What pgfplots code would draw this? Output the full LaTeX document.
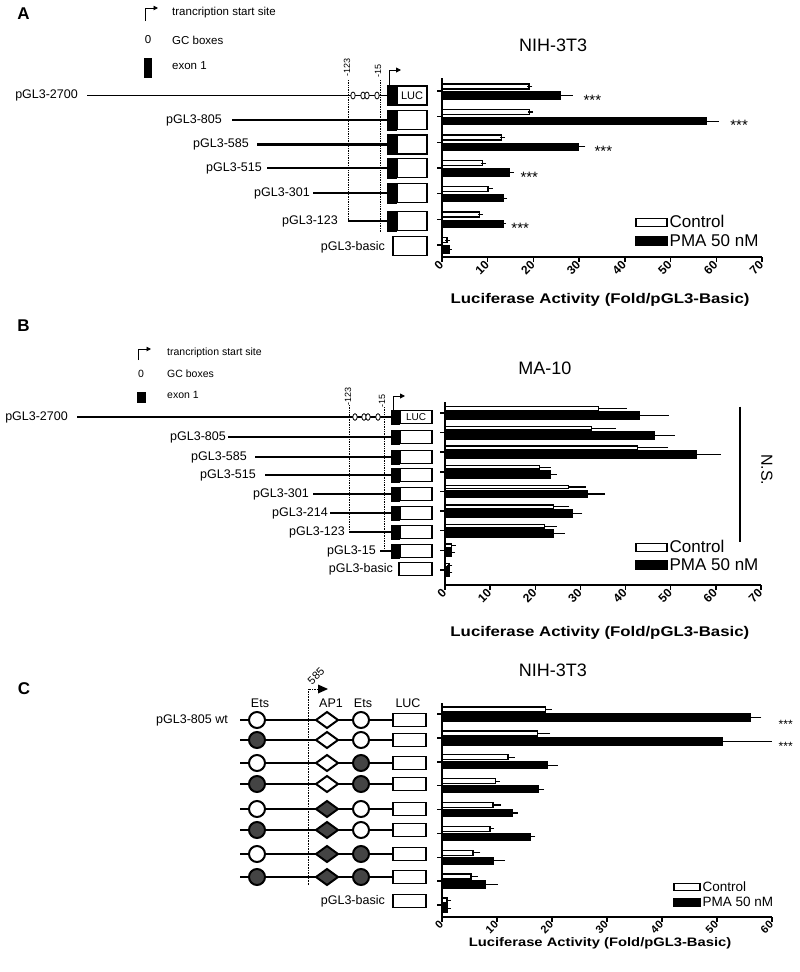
\documentclass[border=0pt]{standalone}
\usepackage{fontspec}
\setmainfont{Liberation Sans}
\usepackage{graphicx}
\usepackage{pgfplots}
\pgfplotsset{compat=1.18}
\usetikzlibrary{arrows.meta}
\newcommand{\fs}[1]{\fontsize{#1}{#1}\selectfont}
\definecolor{cdark}{HTML}{444444}

\pgfplotsset{
  lucaxis/.style={
    scale only axis, anchor=south west,
    xbar, clip=false,
    axis x line*=bottom, axis y line*=left,
    axis line style={line width=1.6pt,-},
    xmin=0,
    yticklabels={},
    tick align=outside, major tick length=5pt,
    tick style={line width=1.5pt,black},
    /pgf/number format/assume math mode=true,
    x tick label style={rotate=45, anchor=east, inner sep=1pt},
    legend cell align=left,
  },
  ctrl/.style={fill=white, draw=black, line width=1.4pt, forget plot,
    error bars/x dir=plus, error bars/x explicit,
    error bars/error bar style={line width=1.1pt, black},
    error bars/error mark options={line width=1.1pt, black, mark size=2.5pt}},
  pma/.style={fill=black, draw=black, line width=1.4pt, forget plot,
    error bars/x dir=plus, error bars/x explicit,
    error bars/error bar style={line width=1.1pt, black},
    error bars/error mark options={line width=1.1pt, black, mark size=2.5pt}},
}
\newcommand{\legctrl}[2]{\addlegendimage{legend image code/.code={\draw[fill=white,draw=black,line width=1.5pt] (0pt,-#2) rectangle (#1,#2);}}}
\newcommand{\legpma}[2]{\addlegendimage{legend image code/.code={\draw[fill=black,draw=black,line width=1.5pt] (0pt,-#2) rectangle (#1,#2);}}}

\begin{document}
\begin{tikzpicture}
\useasboundingbox (0,0) rectangle (800pt,-972pt);

% ================= Panel A =================
\begin{axis}[lucaxis, at={(442pt,-257pt)}, width=320pt, height=179pt,
  xmax=70, xtick={0,10,...,70}, ymin=-0.47, ymax=6.51, ytick={0,...,6},
  x tick label style={font=\bfseries\fs{12}},
  xlabel={\scalebox{1.2}[1]{\bfseries Luciferase Activity (Fold/pGL3-Basic)}},
  xlabel style={at={(axis description cs:0.494,-0.24)}, anchor=center, font=\fs{14}},
  legend style={draw=none, fill=none, at={(0.603,0.04)}, anchor=south west,
    font=\fs{17}, inner sep=0pt, row sep=1pt}]
\addplot[ctrl, bar width=5pt, bar shift=4.75pt] coordinates {
 (1.1,0) +- (0.1,0) (8.2,1) +- (0.2,0) (10.1,2) +- (0.4,0) (8.9,3) +- (0.2,0)
 (13.0,4) +- (0.2,0) (19.1,5) +- (0.2,0) (19.0,6) +- (0.2,0)};
\addplot[pma, bar width=7pt, bar shift=-4.5pt] coordinates {
 (1.5,0) +- (0.1,0) (13.3,1) +- (0.2,0) (13.5,2) +- (0.2,0) (14.8,3) +- (0.3,0)
 (29.8,4) +- (1.0,0) (57.8,5) +- (2.2,0) (25.9,6) +- (2.2,0)};
\legctrl{31pt}{4pt}\addlegendentry{Control}
\legpma{31pt}{4pt}\addlegendentry{PMA 50 nM}
\node[font=\fs{18}] at (rel axis cs:0.347,1.184) {NIH-3T3};
\node[font=\fs{15}, yshift=-9pt] at (axis cs:32.9,6) {***};
\node[font=\fs{15}, yshift=-9pt] at (axis cs:65.0,5) {***};
\node[font=\fs{15}, yshift=-9pt] at (axis cs:35.3,4) {***};
\node[font=\fs{15}, yshift=-9pt] at (axis cs:19.1,3) {***};
\node[font=\fs{15}, yshift=-9pt] at (axis cs:17.1,1) {***};
\end{axis}

% ================= Panel B =================
\begin{axis}[lucaxis, at={(445pt,-585pt)}, width=316pt, height=183pt,
  xmax=70, xtick={0,10,...,70}, ymin=-0.77, ymax=8.56, ytick={0,...,8},
  x tick label style={font=\bfseries\fs{12}},
  xlabel={\scalebox{1.2}[1]{\bfseries Luciferase Activity (Fold/pGL3-Basic)}},
  xlabel style={at={(axis description cs:0.49,-0.262)}, anchor=center, font=\fs{14}},
  legend style={draw=none, fill=none, at={(0.601,0.06)}, anchor=south west,
    font=\fs{17}, inner sep=0pt, row sep=0pt}]
\addplot[ctrl, bar width=3.5pt, bar shift=4.5pt] coordinates {
 (0.9,0) +- (0.2,0) (1.5,1) +- (0.3,0) (22.0,2) +- (2.2,0) (24.0,3) +- (3.0,0)
 (27.3,4) +- (3.3,0) (20.9,5) +- (2.0,0) (42.6,6) +- (6.3,0) (32.5,7) +- (4.8,0)
 (34.0,8) +- (5.7,0)};
\addplot[pma, bar width=7.5pt, bar shift=-2.5pt] coordinates {
 (0.9,0) +- (0.2,0) (1.5,1) +- (0.2,0) (24.0,2) +- (2.0,0) (28.1,3) +- (1.8,0)
 (31.6,4) +- (3.3,0) (23.3,5) +- (0.9,0) (55.6,6) +- (4.9,0) (46.3,7) +- (4.0,0)
 (43.0,8) +- (6.0,0)};
\legctrl{31pt}{4pt}\addlegendentry{Control}
\legpma{31pt}{4pt}\addlegendentry{PMA 50 nM}
\node[font=\fs{18}] at (rel axis cs:0.316,1.186) {MA-10};
\draw[line width=1.8pt] (axis cs:65.35,8.32) -- (axis cs:65.35,1.43);
\node[font=\fs{16}, rotate=-90] at (axis cs:71.3,5.1) {N.S.};
\end{axis}

% ================= Panel C =================
\begin{axis}[lucaxis, at={(442pt,-917pt)}, width=330pt, height=214pt,
  xmax=60, xtick={0,10,...,60}, ymin=-0.5, ymax=8.46, ytick={0,...,8},
  x tick label style={font=\bfseries\fs{11}},
  xlabel={\scalebox{1.2}[1]{\bfseries Luciferase Activity (Fold/pGL3-Basic)}},
  xlabel style={at={(axis description cs:0.479,-0.121)}, anchor=center, font=\fs{12.3}},
  legend style={draw=none, fill=none, at={(0.7,0.033)}, anchor=south west,
    font=\fs{13.5}, inner sep=0pt, row sep=0pt}]
\addplot[ctrl, bar width=5pt, bar shift=4.5pt] coordinates {
 (0.9,0) +- (0.3,0) (5.3,1) +- (0.7,0) (5.6,2) +- (0.9,0) (8.7,3) +- (0.3,0)
 (9.3,4) +- (1.0,0) (9.7,5) +- (0.3,0) (12.0,6) +- (0.8,0) (17.4,7) +- (1.8,0)
 (18.8,8) +- (0.7,0)};
\addplot[pma, bar width=7pt, bar shift=-3.5pt] coordinates {
 (0.9,0) +- (0.3,0) (7.9,1) +- (1.8,0) (9.4,2) +- (1.6,0) (16.0,3) +- (0.5,0)
 (12.7,4) +- (0.6,0) (17.5,5) +- (0.6,0) (19.2,6) +- (1.4,0) (51.0,7) +- (8.5,0)
 (56.0,8) +- (1.6,0)};
\legctrl{26pt}{3.5pt}\addlegendentry{Control}
\legpma{26pt}{3.5pt}\addlegendentry{PMA 50 nM}
\node[font=\fs{18}] at (rel axis cs:0.336,1.154) {NIH-3T3};
\node[font=\fs{12}, yshift=-10.5pt] at (axis cs:62.5,8) {***};
\node[font=\fs{12}, yshift=-8.5pt] at (axis cs:62.5,7) {***};
\end{axis}

% ================= Schematics =================
\begin{scope}[x=1pt,y=-1pt]
% panel letters
\node[font=\bfseries\fs{17}] at (23.5,14) {A};
\node[font=\bfseries\fs{17}] at (23.5,326) {B};
\node[font=\bfseries\fs{17}] at (24,689) {C};

% ---- A legend symbols
\draw[line width=0.9pt,-{Triangle[length=4.5pt,width=4.5pt]}] (145,21) -- (145,8) -- (158,8);
\node[anchor=west,font=\fs{11.5},inner sep=0] at (172,13) {trancription start site};
\node[font=\fs{11.5},inner sep=0] at (148,40) {0};
\node[anchor=west,font=\fs{11.5},inner sep=0] at (172,40) {GC boxes};
\fill (144,58) rectangle (152,78);
\node[anchor=west,font=\fs{11.5},inner sep=0] at (172,66) {exon 1};
% ---- A dotted lines
\draw[densely dotted, line width=0.7pt] (348,80) -- (348,221);
\draw[densely dotted, line width=0.7pt] (380,80) -- (380,232);
\node[rotate=90, font=\fs{9}, inner sep=0] at (347,67) {-123};
\node[rotate=90, font=\fs{9}, inner sep=0] at (378,71) {-15};
\draw[line width=0.9pt,-{Triangle[length=5pt,width=5pt]}] (389,85) -- (389,70) -- (401,70);
% ---- A rows
\draw[line width=1.8pt] (87,95.5) -- (387,95.5);
\draw[line width=1.8pt] (232,120) -- (387,120);
\draw[line width=2.6pt] (257,144.5) -- (387,144.5);
\draw[line width=1.8pt] (267,168) -- (387,168);
\draw[line width=1.8pt] (313,193) -- (387,193);
\draw[line width=1.8pt] (348,221) -- (387,221);
\foreach \y in {95.5,120,144.5,168,193,221}{
  \fill (387,\y-10.5) rectangle (397,\y+10.5);
  \draw[line width=1.5pt, fill=white] (397,\y-9.5) rectangle (427,\y+9.5);
}
\draw[line width=1.5pt, fill=white] (393,236.5) rectangle (427,255.5);
\node[font=\fs{11}] at (412,95.5) {LUC};
\foreach \x in {353,363,367,377}{
  \draw[line width=0.8pt, fill=white] (\x,95.5) ellipse (2.2pt and 3.5pt);
}
\node[anchor=east,font=\fs{12.5},inner sep=0] at (78,95.5) {pGL3-2700};
\node[anchor=east,font=\fs{12.5},inner sep=0] at (222,120) {pGL3-805};
\node[anchor=east,font=\fs{12.5},inner sep=0] at (249,144.5) {pGL3-585};
\node[anchor=east,font=\fs{12.5},inner sep=0] at (262,168) {pGL3-515};
\node[anchor=east,font=\fs{12.5},inner sep=0] at (310,193) {pGL3-301};
\node[anchor=east,font=\fs{12.5},inner sep=0] at (338,221) {pGL3-123};
\node[anchor=east,font=\fs{12.5},inner sep=0] at (385,247) {pGL3-basic};

% ---- B legend symbols
\draw[line width=0.9pt,-{Triangle[length=4.5pt,width=4.5pt]}] (138,360) -- (138,349) -- (151,349);
\node[anchor=west,font=\fs{10.5},inner sep=0] at (167,353) {trancription start site};
\node[font=\fs{10.5},inner sep=0] at (141,374) {0};
\node[anchor=west,font=\fs{10.5},inner sep=0] at (167,374) {GC boxes};
\fill (137,392) rectangle (146,403);
\node[anchor=west,font=\fs{10.5},inner sep=0] at (167,395) {exon 1};
% ---- B dotted
\draw[densely dotted, line width=0.7pt] (349,405) -- (349,532);
\draw[densely dotted, line width=0.7pt] (384,407) -- (384,551);
\node[rotate=90, font=\fs{9}, inner sep=0] at (348,396) {-123};
\node[rotate=90, font=\fs{9}, inner sep=0] at (382,401) {-15};
\draw[line width=0.9pt,-{Triangle[length=5pt,width=5pt]}] (393,410) -- (393,396) -- (405,396);
% ---- B rows
\draw[line width=1.4pt] (77,417) -- (391,417);
\draw[line width=1.4pt] (228,437) -- (391,437);
\draw[line width=1.4pt] (255,457) -- (391,457);
\draw[line width=1.4pt] (265,475) -- (391,475);
\draw[line width=1.4pt] (313,494) -- (391,494);
\draw[line width=1.4pt] (330,513) -- (391,513);
\draw[line width=1.4pt] (349,532) -- (391,532);
\draw[line width=1.4pt] (380,551) -- (391,551);
\foreach \y in {417,437,457,475,494,513,532,551}{
  \fill (391,\y-7.5) rectangle (400,\y+7.5);
  \draw[line width=1.4pt, fill=white] (400,\y-6.5) rectangle (432,\y+6.5);
}
\draw[line width=1.4pt, fill=white] (399,562.5) rectangle (432,575.5);
\node[font=\fs{10}] at (416,417) {LUC};
\foreach \x in {355,364,368,378}{
  \draw[line width=0.8pt, fill=white] (\x,417) ellipse (2.2pt and 3.3pt);
}
\node[anchor=east,font=\fs{12.5},inner sep=0] at (68,417) {pGL3-2700};
\node[anchor=east,font=\fs{12.5},inner sep=0] at (226,437) {pGL3-805};
\node[anchor=east,font=\fs{12.5},inner sep=0] at (247,457) {pGL3-585};
\node[anchor=east,font=\fs{12.5},inner sep=0] at (256,475) {pGL3-515};
\node[anchor=east,font=\fs{12.5},inner sep=0] at (309,494) {pGL3-301};
\node[anchor=east,font=\fs{12.5},inner sep=0] at (328,513) {pGL3-214};
\node[anchor=east,font=\fs{12.5},inner sep=0] at (345,532) {pGL3-123};
\node[anchor=east,font=\fs{12.5},inner sep=0] at (376,551) {pGL3-15};
\node[anchor=east,font=\fs{12.5},inner sep=0] at (393,569) {pGL3-basic};

% ---- C schematic
\draw[densely dotted, line width=0.6pt] (308,885) -- (308,689) -- (318,689);
\fill (318,684.5) -- (328,689) -- (318,693.5) -- cycle;
\node[rotate=45, font=\fs{11}, inner sep=0] at (316,676) {585};
\node[font=\fs{12.5}, inner sep=0] at (260,703) {Ets};
\node[font=\fs{12.5}, inner sep=0] at (331,703) {AP1};
\node[font=\fs{12.5}, inner sep=0] at (363,703) {Ets};
\node[font=\fs{12.5}, inner sep=0] at (408,703) {LUC};
\foreach \y/\l/\a/\r in {720/white/white/white, 740/cdark/white/white,
  763/white/white/cdark, 784/cdark/white/cdark, 809/white/cdark/white,
  830/cdark/cdark/white, 854/white/cdark/cdark, 877/cdark/cdark/cdark}{
  \draw[line width=2.8pt] (240,\y) -- (393,\y);
  \draw[line width=2pt, fill=\l] (257,\y) circle (8pt);
  \draw[line width=2pt, fill=\a] (316,\y) -- (327,\y-8) -- (338,\y) -- (327,\y+8) -- cycle;
  \draw[line width=2pt, fill=\r] (361,\y) circle (8pt);
  \draw[line width=1.4pt, fill=white] (393,\y-6.5) rectangle (426,\y+6.5);
}
\draw[line width=1.4pt, fill=white] (393,894.5) rectangle (426,907.5);
\node[anchor=east,font=\fs{12.5},inner sep=0] at (228,720) {pGL3-805 wt};
\node[anchor=east,font=\fs{12.5},inner sep=0] at (385,901) {pGL3-basic};
\end{scope}
\end{tikzpicture}
\end{document}
